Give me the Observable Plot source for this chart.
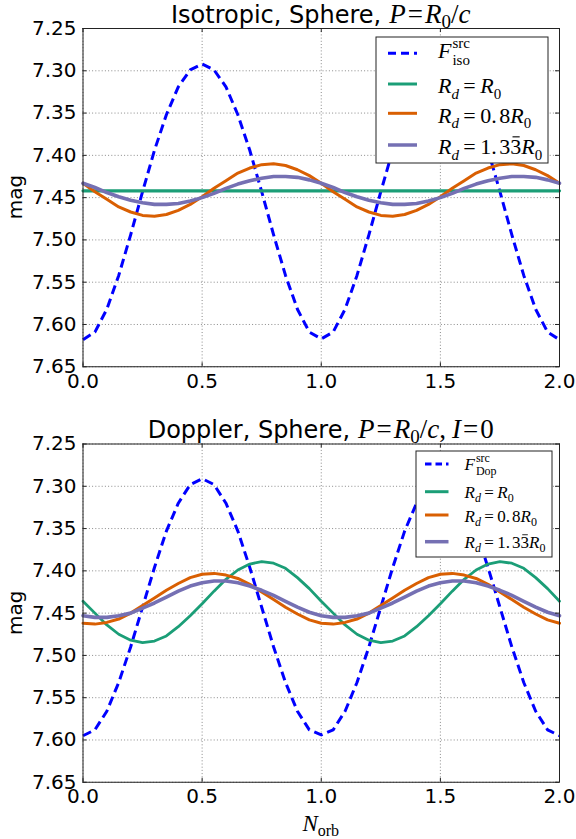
<!DOCTYPE html>
<html><head><meta charset="utf-8">
<script src="https://cdn.jsdelivr.net/npm/d3@7"></script>
<script src="https://cdn.jsdelivr.net/npm/@observablehq/plot@0.6"></script>
<style>
body{margin:0;background:#fff;}
#wrap{position:relative;width:576px;height:839px;overflow:hidden;background:#fff;}
#wrap > svg{position:absolute;left:0;}
</style></head><body><div id="wrap"></div>
<script>
// ---- data ----
const N = [0,0.05,0.1,0.15,0.2,0.25,0.3,0.35,0.4,0.45,0.5,0.55,0.6,0.65,0.7,0.75,0.8,0.85,0.9,0.95,1,
           1.05,1.1,1.15,1.2,1.25,1.3,1.35,1.4,1.45,1.5,1.55,1.6,1.65,1.7,1.75,1.8,1.85,1.9,1.95,2];

// Top panel: Isotropic
const isoSrc  = [7.618,7.609,7.582,7.542,7.494,7.443,7.394,7.352,7.319,7.299,7.292,7.299,7.319,7.352,7.394,7.443,7.494,7.542,7.582,7.609,7.617,
                 7.609,7.582,7.542,7.494,7.443,7.394,7.352,7.319,7.299,7.292,7.299,7.319,7.352,7.394,7.443,7.494,7.542,7.582,7.609,7.618];
const isoR1   = [7.442,7.442,7.442,7.442,7.442,7.442,7.442,7.442,7.442,7.442,7.442,7.442,7.442,7.442,7.442,7.442,7.442,7.442,7.442,7.442,7.442,
                 7.442,7.442,7.442,7.442,7.442,7.442,7.442,7.442,7.442,7.442,7.442,7.442,7.442,7.442,7.442,7.442,7.442,7.442,7.442,7.442];
const isoR08  = [7.433,7.443,7.452,7.461,7.467,7.471,7.472,7.470,7.465,7.458,7.449,7.439,7.430,7.421,7.415,7.411,7.410,7.412,7.417,7.424,7.433,
                 7.443,7.452,7.461,7.467,7.471,7.472,7.470,7.465,7.458,7.449,7.439,7.430,7.421,7.415,7.411,7.410,7.412,7.417,7.424,7.433];
const isoR133 = [7.433,7.438,7.444,7.449,7.453,7.456,7.458,7.458,7.457,7.454,7.450,7.445,7.439,7.434,7.430,7.427,7.425,7.425,7.426,7.429,7.433,
                 7.438,7.444,7.449,7.453,7.456,7.458,7.458,7.457,7.454,7.450,7.445,7.439,7.434,7.430,7.427,7.425,7.425,7.426,7.429,7.433];

// Bottom panel: Doppler
const dopSrc  = [7.595,7.588,7.566,7.532,7.490,7.443,7.396,7.353,7.320,7.298,7.291,7.298,7.320,7.353,7.396,7.443,7.490,7.532,7.566,7.588,7.594,
                 7.588,7.566,7.532,7.490,7.443,7.396,7.353,7.320,7.298,7.291,7.298,7.320,7.353,7.396,7.443,7.490,7.532,7.566,7.588,7.595];
const dopR1   = [7.436,7.450,7.464,7.475,7.482,7.485,7.483,7.477,7.466,7.453,7.439,7.424,7.410,7.399,7.392,7.389,7.391,7.397,7.408,7.421,7.436,
                 7.450,7.464,7.475,7.482,7.485,7.483,7.477,7.466,7.453,7.439,7.424,7.410,7.399,7.392,7.389,7.391,7.397,7.408,7.421,7.436];
const dopR08  = [7.462,7.463,7.461,7.457,7.450,7.441,7.432,7.423,7.415,7.408,7.404,7.403,7.405,7.409,7.416,7.425,7.434,7.443,7.451,7.458,7.462,
                 7.463,7.461,7.457,7.450,7.441,7.432,7.423,7.415,7.408,7.404,7.403,7.405,7.409,7.416,7.425,7.434,7.443,7.451,7.458,7.462];
const dopR133 = [7.453,7.455,7.455,7.453,7.450,7.444,7.438,7.431,7.424,7.418,7.414,7.412,7.412,7.414,7.418,7.423,7.429,7.436,7.443,7.449,7.453,
                 7.455,7.455,7.453,7.450,7.444,7.438,7.431,7.424,7.418,7.414,7.412,7.412,7.414,7.418,7.423,7.429,7.436,7.443,7.449,7.453];

const xTicks = [0, 0.5, 1, 1.5, 2];
const yTicks = [7.25, 7.30, 7.35, 7.40, 7.45, 7.50, 7.55, 7.60, 7.65];

const COLORS = {src: "#0000ff", r1: "#1b9e77", r08: "#d95f02", r133: "#7570b3"};
const SANS = "DejaVu Sans";
const SERIF = "Liberation Serif";

// ---- layout ----
const W = 576, ML = 82.5, MR = 17, PH = 338.25;
const PW = W - ML - MR;

function panel(series, top, mt, height, widths) {
  const rows = key => N.map((n, i) => ({n, m: series[key][i]}));
  const svg = Plot.plot({
    width: W, height,
    marginLeft: ML, marginRight: MR, marginTop: mt, marginBottom: height - mt - PH,
    style: {fontFamily: SANS, fontSize: "20px", color: "#000", background: "transparent", overflow: "visible"},
    x: {domain: [0, 2]},
    y: {domain: [7.25, 7.65], reverse: true},
    marks: [
      Plot.gridX(xTicks, {stroke: "#8a8a8a", strokeOpacity: 1, strokeDasharray: "1,2.2"}),
      Plot.gridY(yTicks, {stroke: "#8a8a8a", strokeOpacity: 1, strokeDasharray: "1,2.2"}),
      Plot.line(rows("src"), {x: "n", y: "m", stroke: COLORS.src, strokeWidth: 3, strokeDasharray: "9,5", strokeLinecap: "butt"}),
      Plot.line(rows("r1"), {x: "n", y: "m", stroke: COLORS.r1, strokeWidth: widths[0]}),
      Plot.line(rows("r08"), {x: "n", y: "m", stroke: COLORS.r08, strokeWidth: widths[1]}),
      Plot.line(rows("r133"), {x: "n", y: "m", stroke: COLORS.r133, strokeWidth: widths[2]}),
      Plot.tickY(yTicks, {y: d => d, insetRight: PW - 4, stroke: "#222"}),
      Plot.tickY(yTicks, {y: d => d, insetLeft: PW - 4, stroke: "#222"}),
      Plot.tickX(xTicks, {x: d => d, insetBottom: PH - 4, stroke: "#222"}),
      Plot.tickX(xTicks, {x: d => d, insetTop: PH - 4, stroke: "#222"}),
      Plot.frame({stroke: "#222", strokeWidth: 1}),
      Plot.axisX(xTicks, {tickFormat: d3.format(".1f"), tickSize: 0, tickPadding: 7, fontSize: 20, label: null, fill: "#000"}),
      Plot.axisY(yTicks, {tickFormat: d3.format(".2f"), tickSize: 0, tickPadding: 6.5, fontSize: 20, label: null, fill: "#000"})
    ]
  });
  svg.style.top = top + "px";
  document.getElementById("wrap").appendChild(svg);
}

panel({src: isoSrc, r1: isoR1, r08: isoR08, r133: isoR133}, 0, 28, 410, [3.2, 3, 3.6]);
panel({src: dopSrc, r1: dopR1, r08: dopR08, r133: dopR133}, 415, 28.5, 424, [2.8, 3, 3.6]);

// ---- overlay: titles, labels, legends ----
const ov = d3.select("#wrap").append("svg")
  .attr("width", 576).attr("height", 839)
  .style("top", "0px").style("overflow", "visible");

function mathText(parent, x, y, pieces, anchor) {
  const g = parent.append("g");
  let cx = 0;
  const put = (q, at) => g.append("text").attr("x", at).attr("y", q.dy || 0)
    .attr("font-family", q.f || SERIF).attr("font-size", q.s)
    .attr("font-style", q.i ? "italic" : "normal").attr("fill", "#000")
    .style("white-space", "pre").text(q.t);
  for (const p of pieces) {
    if (p.gap) { cx += p.gap; continue; }
    if (p.stack) {
      let w = 0;
      for (const q of p.stack) w = Math.max(w, put(q, cx).node().getComputedTextLength());
      cx += w;
      continue;
    }
    const w = put(p, cx).node().getComputedTextLength();
    if (p.bar) {
      g.append("line").attr("x1", cx + w * 0.2).attr("x2", cx + w * 0.85)
        .attr("y1", -p.s * 0.78).attr("y2", -p.s * 0.78)
        .attr("stroke", "#000").attr("stroke-width", Math.max(0.8, p.s * 0.05));
    }
    cx += w;
  }
  const off = anchor === "middle" ? -cx / 2 : 0;
  g.attr("transform", `translate(${x + off},${y})`);
  return cx;
}

const CX = ML + PW / 2;
const TS = 27;
const eqPieces = [
  {t: "P", i: 1, s: TS}, {gap: 2}, {t: "=", s: TS}, {gap: 2},
  {t: "R", i: 1, s: TS}, {t: "0", s: 19, dy: 5}, {t: "/", s: TS}, {t: "c", i: 1, s: TS}
];
mathText(ov, CX, 23, [{t: "Isotropic, Sphere,", f: SANS, s: 24}, {gap: 8}, ...eqPieces], "middle");
mathText(ov, CX, 438, [{t: "Doppler, Sphere,", f: SANS, s: 24}, {gap: 8}, ...eqPieces,
  {t: ",", s: TS}, {gap: 6}, {t: "I", i: 1, s: TS}, {gap: 2}, {t: "=", s: TS}, {gap: 2}, {t: "0", s: TS}], "middle");

// y labels
[197, 612.75].forEach(cy => {
  ov.append("text").attr("transform", `translate(22,${cy}) rotate(-90)`)
    .attr("text-anchor", "middle").attr("font-family", SANS).attr("font-size", 20)
    .attr("fill", "#000").text("mag");
});
// x label
mathText(ov, CX, 831, [{t: "N", i: 1, s: 23}, {t: "orb", s: 16, dy: 5}], "middle");

// legends
function legend(box, lines, textX, baselines, lineYs, fs, srcSub, dash) {
  ov.append("rect").attr("x", box[0]).attr("y", box[1]).attr("width", box[2]).attr("height", box[3])
    .attr("fill", "#fff").attr("stroke", "#222").attr("stroke-width", 1);
  const keys = ["src", "r1", "r08", "r133"];
  keys.forEach((k, i) => {
    ov.append("line").attr("x1", lines[0]).attr("x2", lines[1])
      .attr("y1", lineYs[i]).attr("y2", lineYs[i])
      .attr("stroke", COLORS[k]).attr("stroke-width", k === "r133" ? 3.5 : 3)
      .attr("stroke-dasharray", k === "src" ? dash : null);
  });
  const ss = Math.round(fs * 0.7), sd = fs * 0.25, g = fs * 0.2;
  mathText(ov, textX, baselines[0], [
    {t: "F", i: 1, s: fs},
    {gap: 1},
    {stack: [{t: "src", s: ss, dy: -fs * 0.45}, {t: srcSub, s: ss, dy: fs * 0.3}]}
  ]);
  const Rd = [{t: "R", i: 1, s: fs}, {t: "d", i: 1, s: ss, dy: sd}, {gap: g}, {t: "=", s: fs}, {gap: g}];
  const R0 = [{t: "R", i: 1, s: fs}, {t: "0", s: ss, dy: sd}];
  mathText(ov, textX, baselines[1], [...Rd, ...R0]);
  mathText(ov, textX, baselines[2], [...Rd, {t: "0.", s: fs}, {gap: g * 0.6}, {t: "8", s: fs}, ...R0]);
  mathText(ov, textX, baselines[3], [...Rd, {t: "1.", s: fs}, {gap: g * 0.6}, {t: "3", s: fs}, {t: "3", s: fs, bar: true}, ...R0]);
}
legend([376, 37, 172, 126], [388, 417], 438, [58, 93, 122.5, 154], [53.3, 84, 113.3, 145], 22, "iso", "8,5");
legend([416, 451, 136, 106], [425, 448.5], 464.5, [470, 498, 522, 548], [464, 491.7, 515, 541.7], 17, "Dop", "6.5,4");
</script>
</body></html>
